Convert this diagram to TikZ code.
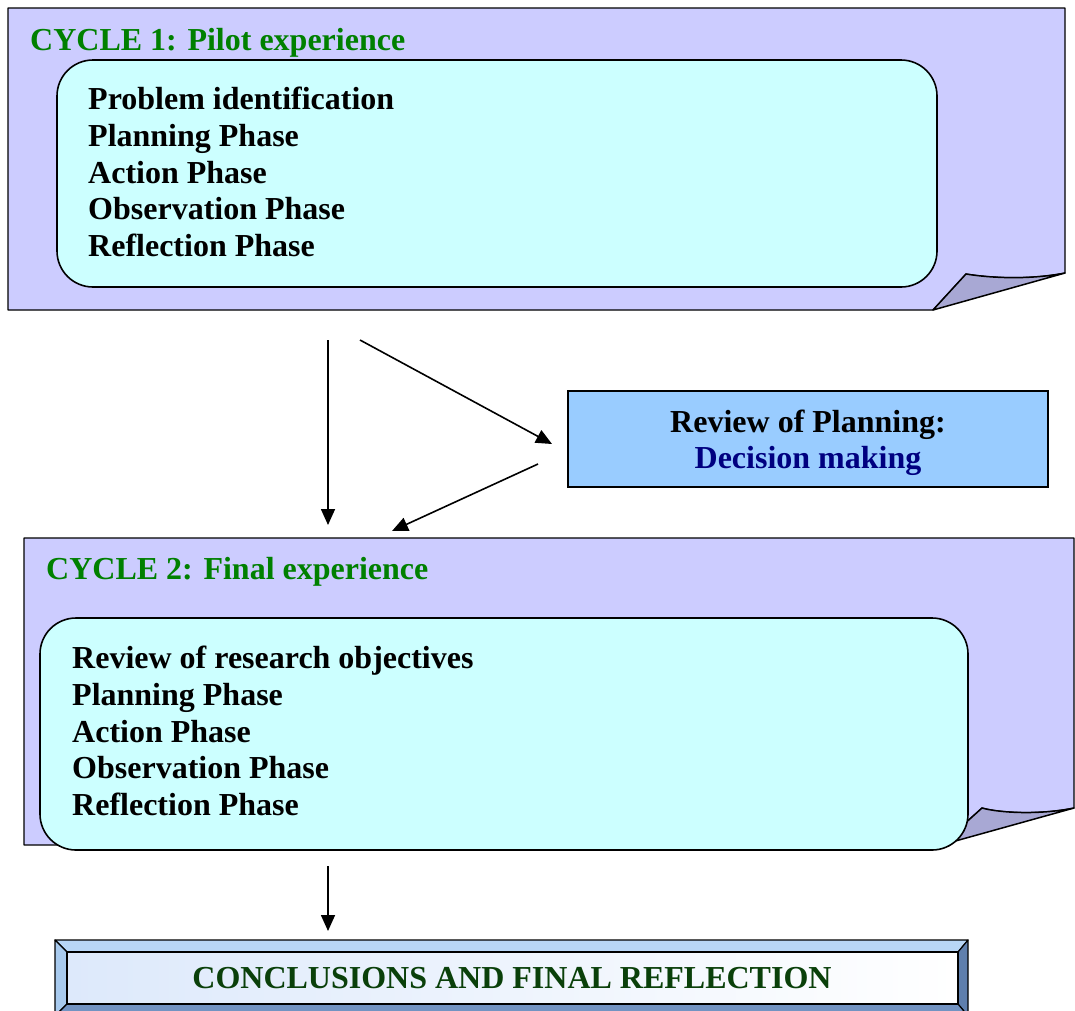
\documentclass[tikz,border=0pt]{standalone}
\usepackage{fontspec}
\setmainfont{Liberation Serif}
\usetikzlibrary{arrows.meta}
\definecolor{lav}{HTML}{CCCCFF}
\definecolor{foldc}{HTML}{A8A8D4}
\definecolor{aqua}{HTML}{CCFFFF}
\definecolor{revblue}{HTML}{99CCFF}
\definecolor{cgreen}{HTML}{008000}
\definecolor{dgreen}{HTML}{0A400A}
\definecolor{navyc}{HTML}{000080}
\definecolor{bevlight}{HTML}{B8D6F6}
\definecolor{bevlight2}{HTML}{A8CAEE}
\definecolor{bevdark}{HTML}{5F7FAD}
\definecolor{bevdark2}{HTML}{7293C2}
\definecolor{innerbl}{HTML}{DDE9FB}
\begin{document}
\begin{tikzpicture}[x=1pt,y=-1pt,
  txt/.style={font=\fontsize{32}{37}\selectfont\bfseries, inner sep=0pt, anchor=base west},
  pagestyle/.style={fill=lav, draw=black, line width=1.3pt, line join=round},
  foldstyle/.style={fill=foldc, draw=black, line width=1.5pt, line join=round},
  innerbox/.style={fill=aqua, draw=black, line width=1.6pt, rounded corners=36pt},
  arr/.style={-{Triangle[length=16pt,width=14pt]}, line width=1.6pt},
  bev/.style={draw=black, line width=1.2pt, line join=round}
]
\useasboundingbox (0,0) rectangle (1075,1010);
\clip (0,0) rectangle (1075,1010);

% ---------- Cycle 1 page ----------
\draw[pagestyle] (8,8) -- (1065,8) -- (1065,273)
  .. controls (1030,280) and (990,278) .. (966,274) -- (933,310) -- (8,310) -- cycle;
\draw[foldstyle] (966,274) -- (933,310) -- (1065,273)
  .. controls (1030,280) and (990,278) .. (966,274) -- cycle;
\draw[innerbox] (57,60) rectangle (937,287);
\node[txt, text=cgreen] (c1title) at (30,50) {CYCLE 1: Pilot experience};
\node[txt] (c1l1) at (88,109) {Problem identification};
\node[txt] (c1l2) at (88,146) {Planning Phase};
\node[txt] (c1l3) at (88,183) {Action Phase};
\node[txt] (c1l4) at (88,219) {Observation Phase};
\node[txt] (c1l5) at (88,256) {Reflection Phase};

% ---------- Review box ----------
\node[draw=black, fill=revblue, line width=1.4pt, minimum width=480pt, minimum height=96pt, inner sep=0pt] (review) at (808,439) {};
\node[txt, anchor=base] (rev1) at (808,432) {Review of Planning:};
\node[txt, anchor=base, text=navyc] (rev2) at (808,468) {Decision making};

% ---------- Cycle 2 page ----------
\draw[pagestyle] (24,538) -- (1074,538) -- (1074,808)
  .. controls (1040,815) and (1000,813) .. (982,808) -- (941,845) -- (24,845) -- cycle;
\draw[foldstyle] (982,808) -- (941,845) -- (1074,808)
  .. controls (1040,815) and (1000,813) .. (982,808) -- cycle;
\draw[innerbox] (40,618) rectangle (968,850);
\node[txt, text=cgreen] (c2title) at (46,579) {CYCLE 2: Final experience};
\node[txt] (c2l1) at (72,668) {Review of research objectives};
\node[txt] (c2l2) at (72,705) {Planning Phase};
\node[txt] (c2l3) at (72,742) {Action Phase};
\node[txt] (c2l4) at (72,778) {Observation Phase};
\node[txt] (c2l5) at (72,815) {Reflection Phase};

% ---------- Arrows ----------
\coordinate (a1s) at (328,340);
\coordinate (a1e) at (328,525);
\coordinate (a2s) at (360,340);
\coordinate (a2e) at (552,444);
\coordinate (a3s) at (538,464);
\coordinate (a3e) at (392,531);
\coordinate (a4s) at (328,866);
\coordinate (a4e) at (328,931);
\draw[arr] (a1s) -- (a1e);
\draw[arr] (a2s) -- (a2e);
\draw[arr] (a3s) -- (a3e);
\draw[arr] (a4s) -- (a4e);

% ---------- Conclusions ----------
\fill[left color=innerbl, right color=white] (67,952) rectangle (958,1004);
\draw[bev, fill=bevlight] (55,940) -- (968,940) -- (958,952) -- (67,952) -- cycle;
\draw[bev, fill=bevlight2] (55,940) -- (67,952) -- (67,1004) -- (55,1016) -- cycle;
\draw[bev, fill=bevdark] (968,940) -- (968,1016) -- (958,1004) -- (958,952) -- cycle;
\draw[bev, fill=bevdark2] (55,1016) -- (968,1016) -- (958,1004) -- (67,1004) -- cycle;
\draw[bev] (67,952) rectangle (958,1004);
\node[txt, anchor=base, text=dgreen] (concl) at (512,988) {CONCLUSIONS AND FINAL REFLECTION};
\end{tikzpicture}
\end{document}
